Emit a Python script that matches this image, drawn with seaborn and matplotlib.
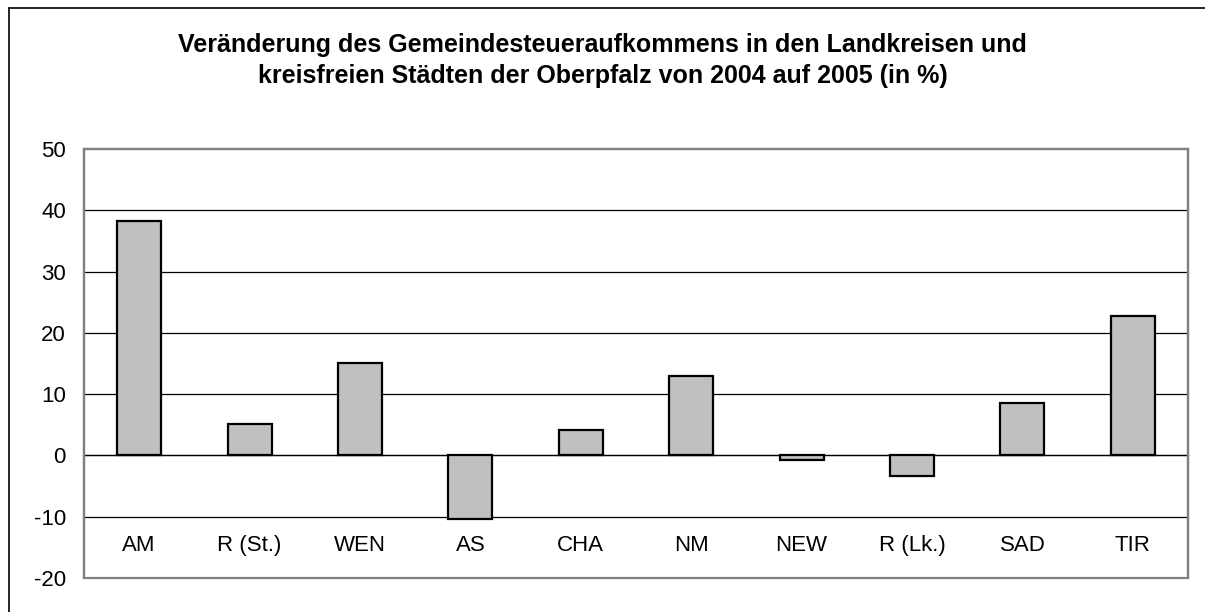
import matplotlib
matplotlib.use('Agg')
import matplotlib.pyplot as plt
import seaborn as sns
import pandas as pd
from matplotlib.patches import Rectangle
from matplotlib.lines import Line2D

# Landkreise / kreisfreie Staedte und Veraenderung in %
kreise = ['AM', 'R (St.)', 'WEN', 'AS', 'CHA', 'NM', 'NEW', 'R (Lk.)', 'SAD', 'TIR']
veraenderung = [38.2, 5.1, 15.0, -10.3, 4.1, 13.0, -0.8, -3.4, 8.5, 22.7]
yticks = [-20, -10, 0, 10, 20, 30, 40, 50]

df = pd.DataFrame({'kreis': kreise, 'wert': veraenderung})

sns.set_style('white')
plt.rcParams['font.family'] = ['Liberation Sans', 'DejaVu Sans']
plt.rcParams['text.color'] = 'black'
plt.rcParams['xtick.color'] = 'black'
plt.rcParams['ytick.color'] = 'black'

fig = plt.figure(figsize=(12.05, 6.12), dpi=100)
ax = fig.add_axes([0.0697, 0.0556, 0.9162, 0.7009])

sns.barplot(data=df, x='kreis', y='wert', color='#C0C0C0', saturation=1,
            edgecolor='black', linewidth=1.6, width=0.4, ax=ax, zorder=3)

ax.set_ylim(-20, 50)
ax.set_xlim(-0.5, len(kreise) - 0.5)
ax.set_yticks(yticks)
ax.set_yticklabels([str(t) for t in yticks], fontsize=16)
ax.set_xlabel('')
ax.set_ylabel('')

# gridlines
for t in yticks[1:-1]:
    ax.axhline(t, color='black', linewidth=0.9, zorder=1)

# x axis at zero
for s in ['left', 'right', 'top']:
    ax.spines[s].set_color('#808080')
    ax.spines[s].set_linewidth(1.6)
ax.spines['bottom'].set_position(('data', 0))
ax.spines['bottom'].set_color('black')
ax.spines['bottom'].set_linewidth(0.9)
ax.spines['bottom'].set_zorder(2)

ax.set_xticks(range(len(kreise)))
ax.set_xticklabels(kreise, fontsize=16)
ax.set_xticks([i - 0.5 for i in range(len(kreise) + 1)], minor=True)
ax.tick_params(axis='x', which='major', length=0, pad=57)
ax.tick_params(axis='x', which='minor', length=4, width=0.9, color='black', direction='out')
ax.tick_params(axis='y', length=5, width=0.9, color='black', direction='out', pad=8)

# plot area frame
ax.add_patch(Rectangle((0, 0), 1, 1, transform=ax.transAxes, fill=False,
                       edgecolor='#808080', linewidth=1.6, clip_on=False, zorder=4))

# chart border (top and left visible)
fig.add_artist(Line2D([9 / 1205, 1], [1 - 8 / 612, 1 - 8 / 612], color='black', linewidth=1.2))
fig.add_artist(Line2D([9 / 1205, 9 / 1205], [0, 1 - 8 / 612], color='black', linewidth=1.2))

fig.text(0.5, 1 - 45 / 612, 'Veränderung des Gemeindesteueraufkommens in den Landkreisen und',
         ha='center', va='center', fontsize=18, fontweight='bold')
fig.text(0.5, 1 - 76 / 612, 'kreisfreien Städten der Oberpfalz von 2004 auf 2005 (in %)',
         ha='center', va='center', fontsize=18, fontweight='bold')

fig.savefig('out.png', dpi=100)
